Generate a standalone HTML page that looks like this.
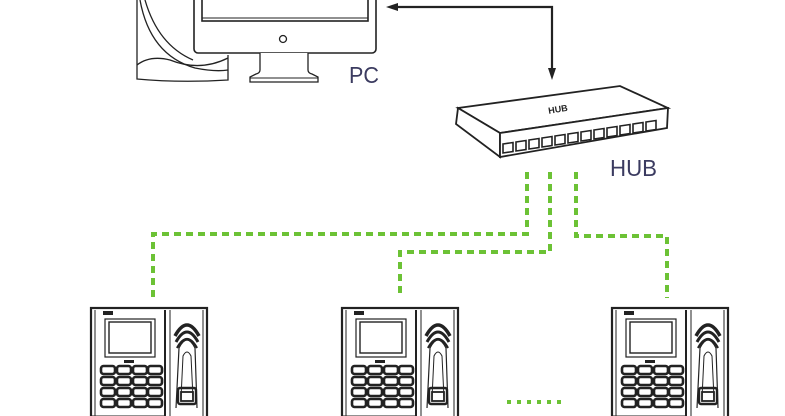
<!DOCTYPE html>
<html><head><style>html,body{margin:0;padding:0;background:#fff;width:785px;height:416px;overflow:hidden}</style></head>
<body>
<svg width="785" height="416" viewBox="0 0 785 416" xmlns="http://www.w3.org/2000/svg">
<defs>
<g id="dev" fill="none" stroke="#222">
  <rect x="0" y="0" width="116" height="112" stroke-width="2.2" fill="#fff"/>
  <line x1="4" y1="2" x2="4" y2="112" stroke-width="1"/>
  <line x1="74" y1="2" x2="74" y2="112" stroke-width="2"/>
  <line x1="79" y1="2" x2="79" y2="112" stroke-width="1"/>
  <line x1="112" y1="2" x2="112" y2="112" stroke-width="1"/>
  <rect x="12" y="3" width="10" height="4" fill="#222" stroke="none"/>
  <rect x="14" y="11" width="50" height="38" stroke-width="1.2"/>
  <rect x="18" y="14" width="42" height="31" stroke-width="1.4"/>
  <rect x="33" y="52" width="10" height="3" fill="#222" stroke="none"/>
  <g stroke-width="2.6">
    <rect x="10" y="58" width="14" height="8" rx="2.5"/><rect x="26" y="58" width="14" height="8" rx="2.5"/><rect x="42" y="58" width="14" height="8" rx="2.5"/><rect x="57" y="58" width="14" height="8" rx="2.5"/>
    <rect x="10" y="69" width="14" height="8" rx="2.5"/><rect x="26" y="69" width="14" height="8" rx="2.5"/><rect x="42" y="69" width="14" height="8" rx="2.5"/><rect x="57" y="69" width="14" height="8" rx="2.5"/>
    <rect x="10" y="80" width="14" height="8" rx="2.5"/><rect x="26" y="80" width="14" height="8" rx="2.5"/><rect x="42" y="80" width="14" height="8" rx="2.5"/><rect x="57" y="80" width="14" height="8" rx="2.5"/>
    <rect x="10" y="91" width="14" height="8" rx="2.5"/><rect x="26" y="91" width="14" height="8" rx="2.5"/><rect x="42" y="91" width="14" height="8" rx="2.5"/><rect x="57" y="91" width="14" height="8" rx="2.5"/>
  </g>
  <path d="M84 28 Q96 6 108 28" stroke-width="3.5"/>
  <path d="M85 34 Q96 14 107 34" stroke-width="3"/>
  <path d="M86 40 Q96 22 106 40" stroke-width="2.2"/>
  <path d="M85 100 L88 40 Q96 24 104 40 L106 100" stroke-width="1.2"/>
  <path d="M90 90 L92 48 Q96 40 100 48 L102 90" stroke-width="1"/>
  <rect x="87" y="80" width="18" height="16" rx="2" stroke-width="2.4"/>
  <rect x="90" y="84" width="12" height="9" stroke-width="1.8"/>
  <line x1="0" y1="108" x2="74" y2="108" stroke-width="1"/>
</g>
</defs>

<g fill="none" stroke="#222" stroke-width="1.3">
  <path d="M137 0 L137 79 Q180 83 228 80 L228 55"/>
  <path d="M140 0 Q150 55 195 68 Q215 72 228 70"/>
  <path d="M137 65 Q150 55 170 60 Q200 72 228 58"/>
  <path d="M145 0 Q158 45 193 60"/>
</g>
<g fill="#fff" stroke="#222">
  <rect x="194" y="-10" width="182" height="63" rx="4" stroke-width="1.6"/>
  <rect x="202" y="-10" width="166" height="31" stroke-width="1.6"/>
  <line x1="202" y1="18" x2="368" y2="18" stroke-width="1"/>
  <circle cx="283" cy="39" r="3.5" stroke-width="1.3"/>
  <path d="M260 53 L260 70 Q260 73 256 74 L250 77 L250 82 L318 82 L318 77 L312 74 Q308 73 308 70 L308 53" stroke-width="1.3"/>
  <line x1="250" y1="78" x2="318" y2="78" stroke-width="1"/>
</g>
<text x="349" y="83" font-family="Liberation Sans, sans-serif" font-size="23" fill="#3b3b60" textLength="30" lengthAdjust="spacingAndGlyphs">PC</text>

<g stroke="#222" stroke-width="2.2" fill="none">
  <polyline points="394,7 552,7 552,70"/>
</g>
<polygon points="386,7 398,3 398,11" fill="#222"/>
<polygon points="552,80 548,68 556,68" fill="#222"/>

<g fill="#fff" stroke="#222" stroke-width="1.8">
  <polygon points="458,108 620,86 668,108 500,133"/>
  <polygon points="458,108 500,133 500,157 456,124"/>
  <polygon points="500,133 668,108 667,128 500,157"/>
</g>
<g fill="none" stroke="#222" stroke-width="1.6">
  <path d="M503 144 l10 -1.5 l0 9 l-10 1.5z M516 142 l10 -1.5 l0 9 l-10 1.5z M529 140 l10 -1.5 l0 9 l-10 1.5z M542 138 l10 -1.5 l0 9 l-10 1.5z M555 136 l10 -1.5 l0 9 l-10 1.5z M568 134 l10 -1.5 l0 9 l-10 1.5z M581 132 l10 -1.5 l0 9 l-10 1.5z M594 130 l10 -1.5 l0 9 l-10 1.5z M607 128 l10 -1.5 l0 9 l-10 1.5z M620 126 l10 -1.5 l0 9 l-10 1.5z M633 124 l10 -1.5 l0 9 l-10 1.5z M646 122 l10 -1.5 l0 9 l-10 1.5z"/>
</g>
<text x="548" y="112" font-family="Liberation Sans, sans-serif" font-weight="bold" font-size="9" fill="#222" transform="rotate(-9 560 108)">HUB</text>
<text x="610" y="176" font-family="Liberation Sans, sans-serif" font-size="23" fill="#3b3b60" textLength="47" lengthAdjust="spacingAndGlyphs">HUB</text>

<g stroke="#6cc235" stroke-width="4" fill="none" stroke-dasharray="7 5">
  <polyline points="527,172 527,234 153,234 153,298"/>
  <polyline points="550,172 550,252 400,252 400,298"/>
  <polyline points="576,172 576,236 667,236 667,298"/>
</g>
<g stroke="#6cc235" stroke-width="4" stroke-dasharray="4 6"><line x1="507" y1="402" x2="562" y2="402"/></g>

<use href="#dev" x="91" y="308"/>
<use href="#dev" x="342" y="308"/>
<use href="#dev" x="612" y="308"/>
</svg>
</body></html>
